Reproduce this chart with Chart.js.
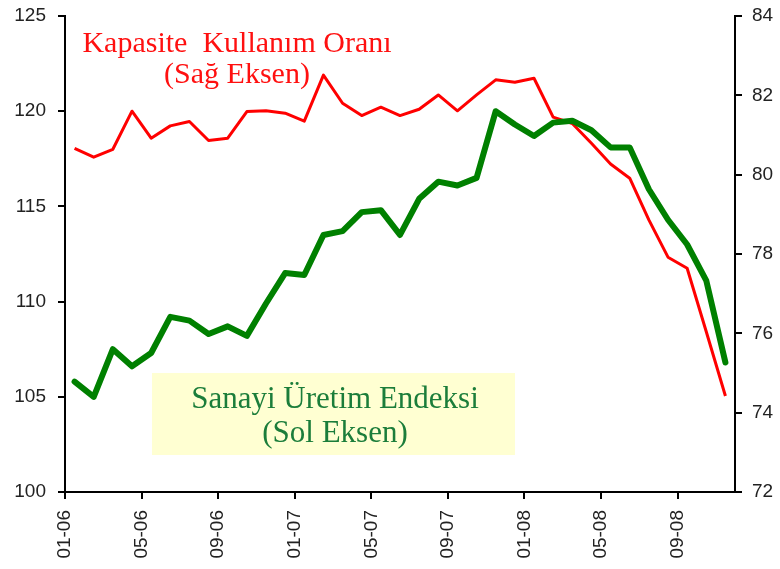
<!DOCTYPE html>
<html>
<head>
<meta charset="utf-8">
<script src="https://cdn.jsdelivr.net/npm/chart.js@4/dist/chart.umd.min.js"></script>
<style>
html,body{margin:0;padding:0;background:#fff;}
#wrap{width:780px;height:569px;}
</style>
</head>
<body>
<div id="wrap"><canvas id="c" width="780" height="569"></canvas></div>
<script>
const months = ['01-06','02-06','03-06','04-06','05-06','06-06','07-06','08-06','09-06','10-06','11-06','12-06',
                '01-07','02-07','03-07','04-07','05-07','06-07','07-07','08-07','09-07','10-07','11-07','12-07',
                '01-08','02-08','03-08','04-08','05-08','06-08','07-08','08-08','09-08','10-08','11-08'];
const tickMonths = ['01-06','05-06','09-06','01-07','05-07','09-07','01-08','05-08','09-08'];

// Sanayi Üretim Endeksi (Sol Eksen)
const sanayi = [105.8,105.0,107.5,106.6,107.3,109.2,109.0,108.3,108.7,108.2,
                109.9,111.5,111.4,113.5,113.7,114.7,114.8,113.5,115.4,116.3,
                116.1,116.5,120.0,119.3,118.7,119.4,119.5,119.0,118.1,118.1,
                115.9,114.3,113.0,111.1,106.8];
// Kapasite Kullanım Oranı (Sağ Eksen)
const kapasite = [80.66,80.44,80.64,81.60,80.92,81.23,81.34,80.86,80.92,81.59,
                  81.61,81.55,81.35,82.51,81.80,81.49,81.70,81.49,81.65,82.01,
                  81.61,82.01,82.39,82.33,82.43,81.45,81.29,80.79,80.27,79.91,
                  78.86,77.92,77.64,76.04,74.42];

const toXY = arr => arr.map((v,i)=>({x:i,y:v}));
const tickVals = tickMonths.map(m => months.indexOf(m) - 0.5);

const annot = {
  id:'annot',
  beforeDatasetsDraw(chart){
    const ctx = chart.ctx;
    ctx.save();
    ctx.fillStyle = '#ffffd2';
    ctx.fillRect(152,373,363,82);
    ctx.restore();
  },
  afterDraw(chart){
    const ctx = chart.ctx;
    ctx.save();
    ctx.textAlign = 'center';
    ctx.textBaseline = 'alphabetic';
    ctx.font = '30px "Liberation Serif", "Times New Roman", serif';
    ctx.fillStyle = '#ff1010';
    ctx.fillText('Kapasite  Kullanım Oranı', 237, 52);
    ctx.fillText('(Sağ Eksen)', 237, 83);
    ctx.font = '31px "Liberation Serif", "Times New Roman", serif';
    ctx.fillStyle = '#1b7d3a';
    ctx.fillText('Sanayi Üretim Endeksi', 335, 408);
    ctx.fillText('(Sol Eksen)', 335, 442);
    ctx.restore();
  }
};

const axisCommon = {
  grid:{drawOnChartArea:false, drawTicks:true, tickLength:7, color:'#000', lineWidth:2},
  border:{display:true, color:'#000', width:2},
  ticks:{color:'#222', font:{family:'"Liberation Sans", Arial, sans-serif', size:19}}
};

new Chart(document.getElementById('c'), {
  type:'line',
  data:{
    datasets:[
      {label:'Sanayi Üretim Endeksi', data:toXY(sanayi), yAxisID:'y', borderColor:'#008000', borderWidth:6,
       pointRadius:0, tension:0, fill:false, borderJoinStyle:'round', borderCapStyle:'round'},
      {label:'Kapasite Kullanım Oranı', data:toXY(kapasite), yAxisID:'y1', borderColor:'#ff0000', borderWidth:3,
       pointRadius:0, tension:0, fill:false, borderJoinStyle:'round'}
    ]
  },
  options:{
    responsive:false,
    animation:false,
    layout:{padding:{top:16, left:0, right:0, bottom:0}},
    plugins:{legend:{display:false}, tooltip:{enabled:false}},
    scales:{
      x:{
        type:'linear', min:-0.5, max:34.5,
        grid:axisCommon.grid, border:axisCommon.border,
        afterBuildTicks(scale){ scale.ticks = tickVals.map(v=>({value:v})); },
        afterFit(scale){ scale.height = 77; scale.paddingLeft = 0; scale.paddingRight = 0; },
        ticks:{...axisCommon.ticks, padding:11, minRotation:90, maxRotation:90, autoSkip:false,
          callback:(v)=> months[Math.round(v+0.5)] }
      },
      y:{
        position:'left', min:100, max:125,
        grid:axisCommon.grid, border:axisCommon.border,
        afterFit(scale){ scale.width = 65; scale.paddingTop = 0; scale.paddingBottom = 0; },
        ticks:{...axisCommon.ticks, stepSize:5, padding:12}
      },
      y1:{
        position:'right', min:72, max:84,
        grid:axisCommon.grid, border:axisCommon.border,
        afterFit(scale){ scale.width = 45; scale.paddingTop = 0; scale.paddingBottom = 0; },
        ticks:{...axisCommon.ticks, stepSize:2, padding:10}
      }
    }
  },
  plugins:[annot]
});
</script>
</body>
</html>
